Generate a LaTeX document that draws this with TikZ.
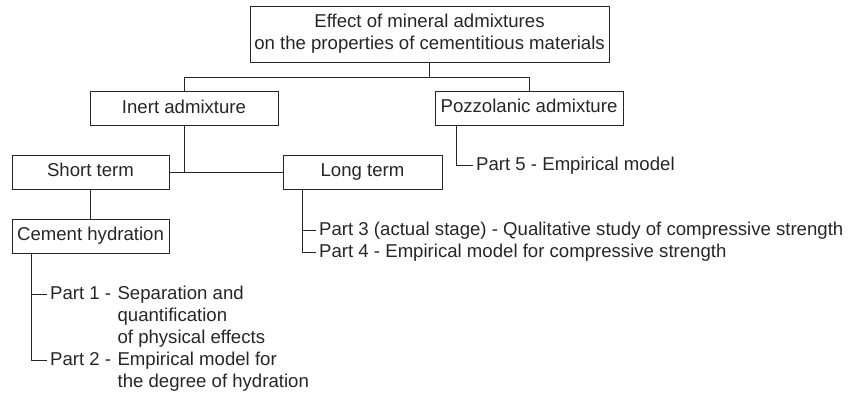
\documentclass[tikz,border=0pt]{standalone}
\usepackage{fontspec}
\setmainfont{Liberation Sans}
\usetikzlibrary{positioning}
\definecolor{ink}{HTML}{262626}
\tikzset{
  box/.style={draw=ink, line width=0.8pt, inner sep=0pt, text=ink},
  tag/.style={box, minimum height=34pt, text height=13pt, text depth=4pt},
  part/.style={anchor=west, inner xsep=3pt, inner ysep=0pt, text height=13pt, text depth=3pt, text=ink},
  link/.style={draw=ink, line width=0.8pt}
}

\begin{document}
\begin{tikzpicture}[x=1pt, y=-1pt, font=\fontsize{18.6}{22}\selectfont]
				\useasboundingbox (0,0) rectangle (848,392);
				
				% Boxes of the tree
				\node[box, minimum width=359pt, minimum height=56pt, align=center] (effect) at (429.5,34) {Effect of mineral admixtures\\on the properties of cementitious materials};
				\node[tag, minimum width=188pt] (inert) at (184,108.5) {Inert admixture};
				\node[tag, minimum width=188pt] (pozz) at (529,108) {Pozzolanic admixture};
				\node[tag, minimum width=157pt] (short) at (90.5,172) {Short term};
				\node[tag, minimum width=159pt] (long) at (362.5,172) {Long term};
				\node[tag, minimum width=157pt] (cement) at (90.5,236) {Cement hydration};
				
				% Texts of the parts
				\node[part] (p1) at (47,294) {Part 1 -};
				\node[part, right=0pt of p1] (p1a) {Separation and};
				\node[part, below=22pt of p1a.west, anchor=west] (p1b) {quantification};
				\node[part, below=22pt of p1b.west, anchor=west] (p1c) {of physical effects};
				\node[part] (p2) at (47,360) {Part 2 -};
				\node[part, right=0pt of p2] (p2a) {Empirical model for};
				\node[part, below=22pt of p2a.west, anchor=west] (p2b) {the degree of hydration};
				\node[part] (p3) at (316,230) {Part 3 (actual stage) - Qualitative study of compressive strength};
				\node[part] (p4) at (316,252) {Part 4 - Empirical model for compressive strength};
				\node[part] (p5) at (473,165) {Part 5 - Empirical model};
				
				% Trunks of the lists
				\coordinate (fork) at ([yshift=-15pt]effect.south);
				\coordinate (ctrunk) at ([xshift=20pt]cement.south west);
				\coordinate (ltrunk) at ([xshift=20pt]long.south west);
				\coordinate (ptrunk) at ([xshift=22pt]pozz.south west);
				
				% Connectors
				\draw[link] (effect.south) -- (fork);
				\draw[link] (inert.north) |- (fork) -| (pozz.north);
				\draw[link] (inert.south) -- (inert.south |- short.east);
				\draw[link] (short.east) -- (long.west);
				\draw[link] (short.south) -- (cement.north);
				\draw[link] (ctrunk) |- (p2.west);
				\draw[link] (ctrunk |- p1.west) -- (p1.west);
				\draw[link] (ltrunk) |- (p4.west);
				\draw[link] (ltrunk |- p3.west) -- (p3.west);
				\draw[link] (ptrunk) |- (p5.west);
			\end{tikzpicture}
\end{document}
